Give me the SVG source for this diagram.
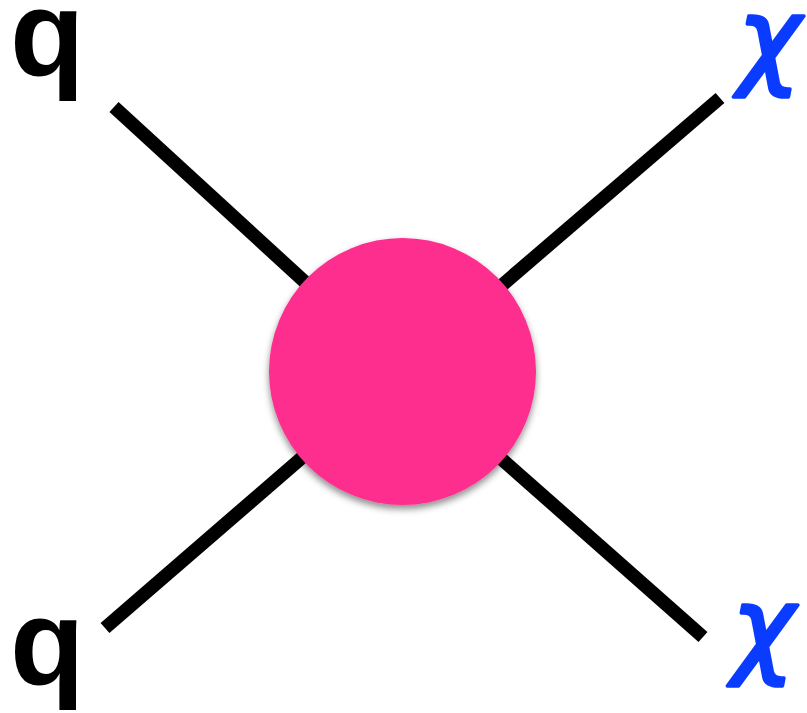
<svg xmlns="http://www.w3.org/2000/svg" width="807" height="713" viewBox="0 0 807 713">
<style>
.line{stroke:#000;stroke-width:13.5;fill:none}
.q{font-family:"Liberation Sans",Arial,sans-serif;font-weight:bold;font-size:122px;fill:#000}
.chi{font-family:"DejaVu Sans",sans-serif;font-style:italic;font-weight:normal;font-size:106px;fill:#0a3cff;stroke:#0a3cff;stroke-width:3.5;stroke-linejoin:round}
</style>
<defs>
<filter id="sh" x="-20%" y="-20%" width="140%" height="150%">
<feDropShadow dx="0" dy="4" stdDeviation="3.5" flood-color="#000" flood-opacity="0.45"/>
</filter>
</defs>
<g id="connectors">
<line class="line" x1="114" y1="107" x2="402" y2="371"/>
<line class="line" x1="720" y1="98" x2="402" y2="371"/>
<line class="line" x1="105" y1="628" x2="402" y2="371"/>
<line class="line" x1="703" y1="637" x2="402" y2="371"/>
</g>
<g id="vertex">
<circle cx="402.5" cy="371.5" r="133.5" fill="#fe2d8e" filter="url(#sh)"/>
</g>
<g id="q1"><text class="q" x="10" y="76">q</text></g>
<g id="q2"><text class="q" x="10" y="685">q</text></g>
<g id="chi1"><text class="chi" x="738" y="75">χ</text></g>
<g id="chi2"><text class="chi" x="732" y="664">χ</text></g>
</svg>
